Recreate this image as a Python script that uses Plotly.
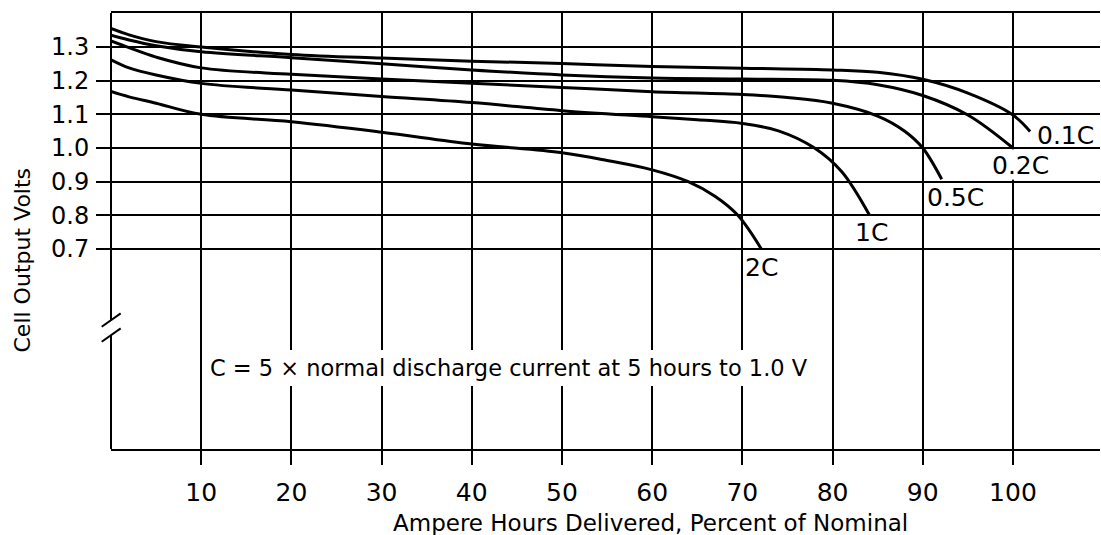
import plotly.graph_objects as go

# ---------------- data ----------------
x_01 = [0, 2, 5, 10, 20, 30, 40, 50, 60, 70, 80, 85, 90, 95, 100, 101.9]
v_01 = [1.355, 1.336, 1.316, 1.300, 1.278, 1.267, 1.258, 1.251, 1.242, 1.237, 1.232,
        1.225, 1.204, 1.163, 1.098, 1.049]

x_02 = [0, 2, 5, 10, 20, 30, 40, 50, 60, 70, 80, 85, 90, 95, 100]
v_02 = [1.335, 1.321, 1.304, 1.286, 1.268, 1.250, 1.232, 1.217, 1.208, 1.205, 1.201,
        1.188, 1.156, 1.098, 1.000]

x_05 = [0, 2, 5, 10, 20, 30, 40, 50, 60, 70, 75, 80, 85, 88, 90, 92.1]
v_05 = [1.318, 1.298, 1.270, 1.238, 1.219, 1.205, 1.192, 1.180, 1.167, 1.159, 1.150,
        1.133, 1.095, 1.050, 1.000, 0.907]

x_1 = [0, 2, 5, 10, 20, 30, 40, 50, 60, 65, 70, 74, 78, 81, 84.1]
v_1 = [1.262, 1.238, 1.217, 1.192, 1.172, 1.153, 1.135, 1.111, 1.093, 1.084, 1.073,
       1.051, 1.000, 0.930, 0.800]

x_2 = [0, 2, 5, 10, 20, 30, 40, 50, 55, 60, 64, 67, 69.5, 72.1]
v_2 = [1.168, 1.152, 1.133, 1.100, 1.078, 1.047, 1.012, 0.986, 0.963, 0.935, 0.900,
       0.856, 0.800, 0.700]

series = [("0.1C", x_01, v_01), ("0.2C", x_02, v_02), ("0.5C", x_05, v_05),
          ("1C", x_1, v_1), ("2C", x_2, v_2)]

# curve labels (x, y in data units)
label_text = ["0.1C", "0.2C", "0.5C", "1C", "2C"]
label_x = [105.8, 100.8, 93.6, 84.3, 72.1]
label_y = [1.037, 0.947, 0.853, 0.750, 0.644]

x_ticks = [10, 20, 30, 40, 50, 60, 70, 80, 90, 100]
y_ticks = [0.7, 0.8, 0.9, 1.0, 1.1, 1.2, 1.3]
y_tick_text = ["0.7", "0.8", "0.9", "1.0", "1.1", "1.2", "1.3"]

x_title = "Ampere Hours Delivered, Percent of Nominal"
y_title = "Cell Output Volts"
note = "C = 5 \u00d7 normal discharge current at 5 hours to 1.0 V"

FONT = "DejaVu Sans"

fig = go.Figure()
for name, xs, vs in series:
    fig.add_trace(go.Scatter(x=xs, y=vs, mode="lines", name=name,
                             line=dict(color="black", width=3, shape="spline", smoothing=1.0),
                             showlegend=False, hoverinfo="skip"))

annotations = []
for t, lx, ly in zip(label_text, label_x, label_y):
    annotations.append(dict(x=lx, y=ly, xref="x", yref="y", text=t, showarrow=False,
                            font=dict(family=FONT, size=25, color="black")))

annotations.append(dict(x=44.1, y=0.347, xref="x", yref="y", text=note, showarrow=False,
                        font=dict(family=FONT, size=22.5, color="black")))
annotations.append(dict(x=0.546, y=-0.170, xref="paper", yref="paper", text=x_title,
                        showarrow=False, yanchor="middle",
                        font=dict(family=FONT, size=23, color="black")))
annotations.append(dict(x=-0.089, y=0.4346, xref="paper", yref="paper", text=y_title,
                        showarrow=False, textangle=-90, xanchor="center", yanchor="middle",
                        font=dict(family=FONT, size=22, color="black")))

shapes = [
    # white gaps in the grid behind the note and the 0.2C label
    dict(type="rect", xref="x", yref="y", x0=10.7, x1=77, y0=0.293, y1=0.400,
         fillcolor="white", line=dict(width=0), layer="between"),
    dict(type="rect", xref="x", yref="y", x0=99.5, x1=100.5, y0=0.906, y1=0.996,
         fillcolor="white", line=dict(width=0), layer="between"),
    # left axis line with a break
    dict(type="line", xref="paper", yref="paper", x0=0, x1=0, y0=0, y1=0.2615,
         line=dict(color="black", width=2)),
    dict(type="line", xref="paper", yref="paper", x0=0, x1=0, y0=0.2959, y1=1,
         line=dict(color="black", width=2)),
    dict(type="line", xref="paper", yref="paper", x0=-0.0094, x1=0.0098, y0=0.2805, y1=0.3112,
         line=dict(color="black", width=2)),
    dict(type="line", xref="paper", yref="paper", x0=-0.0094, x1=0.0098, y0=0.2461, y1=0.2768,
         line=dict(color="black", width=2)),
]

fig.update_layout(
    width=1101, height=535,
    margin=dict(l=111, r=1, t=13, b=86),
    paper_bgcolor="white", plot_bgcolor="white",
    annotations=annotations, shapes=shapes,
    xaxis=dict(range=[0, 109.65], tickvals=x_ticks, ticks="outside", ticklen=14,
               tickwidth=2, tickcolor="black", showgrid=True, gridcolor="black",
               gridwidth=2, showline=True, linecolor="black", linewidth=2, mirror=True,
               zeroline=False, tickfont=dict(family=FONT, size=25, color="black"),
               ticklabelstandoff=6),
    yaxis=dict(range=[0.106, 1.401], tickvals=y_ticks, ticktext=y_tick_text,
               ticks="outside", ticklen=14, tickwidth=2, tickcolor="black",
               showgrid=True, gridcolor="black", gridwidth=2, showline=False,
               zeroline=False, tickfont=dict(family=FONT, size=24, color="black"),
               ticklabelstandoff=2),
)

fig.write_html("out.html")
